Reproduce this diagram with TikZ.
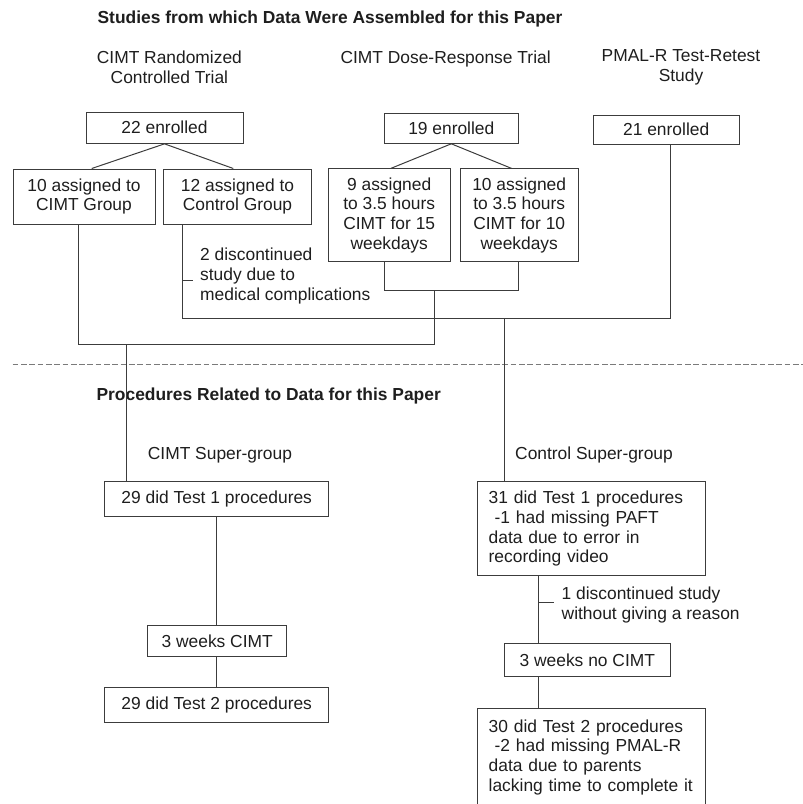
\documentclass[tikz,border=0pt]{standalone}
\usepackage{fontspec}
\usepackage{tikz}
\usepackage{xcolor}
\setmainfont{Liberation Sans}
\definecolor{linegray}{HTML}{3C3C3C}
\definecolor{textgray}{HTML}{1E1E1E}
\definecolor{dashgray}{HTML}{7A7A7A}

\begin{document}
\begin{tikzpicture}[x=1pt, y=-1pt,
    every node/.style={font=\fontsize{17.4}{19.7}\selectfont},
    box/.style={draw=linegray, line width=1pt, inner sep=0pt, align=center, text=textgray},
    notebox/.style={box, align=left, text width=206pt, inner xsep=11pt},
    lbl/.style={inner sep=0pt, text=textgray},
    head/.style={lbl, font=\fontsize{17.4}{19.7}\selectfont\bfseries},
    link/.style={draw=linegray, line width=1pt}]
        % Frame
        \path[use as bounding box] (0,0) rectangle (803,804);
        \clip (0,0) rectangle (803,804);

        % Headings
        \node[head, anchor=base west] (htop) at (97.4,23) {Studies from which Data Were Assembled for this Paper};
        \node[lbl, align=center] (srct) at (169.4,67.3) {CIMT Randomized\\Controlled Trial};
        \node[lbl, anchor=base] (sdose) at (445.6,63.3) {CIMT Dose-Response Trial};
        \node[lbl, align=center] (spmal) at (681,67.3) {PMAL-R Test-Retest\\Study};

        % Source studies
        \node[box, minimum width=157pt, minimum height=31.3pt] (e22) at (164.5,127.7) {22 enrolled};
        \node[box, minimum width=142pt, minimum height=55pt] (a10) at (84,196.5) {10 assigned to\\CIMT Group};
        \node[box, minimum width=147.6pt, minimum height=55pt] (a12) at (237.5,196.5) {12 assigned to\\Control Group};
        \node[box, minimum width=134pt, minimum height=30pt] (e19) at (451.3,128.3) {19 enrolled};
        \node[box, minimum width=121.7pt, minimum height=92.7pt] (a9) at (389.2,215.3) {9 assigned\\to 3.5 hours\\CIMT for 15\\weekdays};
        \node[box, minimum width=118.3pt, minimum height=92.7pt] (a10b) at (519.2,215.3) {10 assigned\\to 3.5 hours\\CIMT for 10\\weekdays};
        \node[box, minimum width=145.7pt, minimum height=29.3pt] (e21) at (666.2,129.7) {21 enrolled};
        \node[lbl, anchor=west, align=left] (drop2) at (200,276) {2 discontinued\\study due to\\medical complications};

        % Separator
        \draw[dashgray, line width=1pt, dash pattern=on 5.7pt off 2.6pt] (12.7,364.3) -- (803,364.3);

        % Procedures
        \node[head, anchor=base west] (hlow) at (96.4,400) {Procedures Related to Data for this Paper};
        \node[lbl, anchor=base west] (scimt) at (147.7,459.3) {CIMT Super-group};
        \node[lbl, anchor=base west] (sctrl) at (515,459.3) {Control Super-group};

        \node[box, minimum width=224pt, minimum height=35pt] (t1c) at (216.7,499.2) {29 did Test 1 procedures};
        \node[box, minimum width=139pt, minimum height=31.4pt] (wc) at (217.2,641) {3 weeks CIMT};
        \node[box, minimum width=224pt, minimum height=35pt] (t2c) at (216.7,705.2) {29 did Test 2 procedures};

        \node[notebox, minimum height=94.3pt] (t1n) at (591.7,528.8) {31 did Test 1 procedures\\\hspace*{6pt}-1 had missing PAFT\\data due to error in\\recording video};
        \node[box, minimum width=165.4pt, minimum height=33.4pt] (wn) at (587.3,660) {3 weeks no CIMT};
        \node[notebox, minimum height=114pt, anchor=north] (t2n) at (591.7,707.7) {30 did Test 2 procedures\\\hspace*{6pt}-2 had missing PMAL-R\\data due to parents\\lacking time to complete it\\\mbox{}};
        \node[lbl, anchor=west, align=left] (drop1) at (561.5,604.8) {1 discontinued study\\without giving a reason};

        % Junctions
        \coordinate (jA) at (182.3,318.3);
        \coordinate (jB) at (670,318.3);
        \coordinate (jC) at (504,318.3);
        \coordinate (jD) at (384.3,290);
        \coordinate (jE) at (518.3,290);
        \coordinate (jF) at (434.3,290);
        \coordinate (jG) at (434.3,344.3);
        \coordinate (jH) at (78.3,344.3);
        \coordinate (jI) at (126.7,344.3);
        \coordinate (cd) at (182.3,280);
        \coordinate (cc) at (216.5,0);
        \coordinate (cn) at (538.3,602.3);

        % Randomization splits
        \draw[link] (e22.south) -- ([xshift=7.7pt]a10.north);
        \draw[link] (e22.south) -- ([xshift=-4.2pt]a12.north);
        \draw[link] (e19.south) -- ([xshift=1.5pt]a9.north);
        \draw[link] (e19.south) -- ([xshift=-7.5pt]a10b.north);

        % Control group and retest study merge
        \draw[link] (a12.south -| jA) -- (jA) -- (jB) -- (e21.south -| jB);
        \draw[link] (cd) -- ++(11,0);
        \draw[link] (jC) -- (t1n.north -| jC);

        % Dose-response arms merge with CIMT group
        \draw[link] (a9.south -| jD) -- (jD) -- (jE) -- (a10b.south -| jE);
        \draw[link] (jF) -- (jG) -- (jH) -- (a10.south -| jH);
        \draw[link] (jI) -- (t1c.north -| jI);

        % Column links
        \draw[link] (t1c.south -| cc) -- (wc.north -| cc);
        \draw[link] (wc.south -| cc) -- (t2c.north -| cc);
        \draw[link] (t1n.south -| cn) -- (wn.north -| cn);
        \draw[link] (wn.south -| cn) -- (t2n.north -| cn);
        \draw[link] (cn) -- ++(15.5,0);
\end{tikzpicture}
\end{document}
